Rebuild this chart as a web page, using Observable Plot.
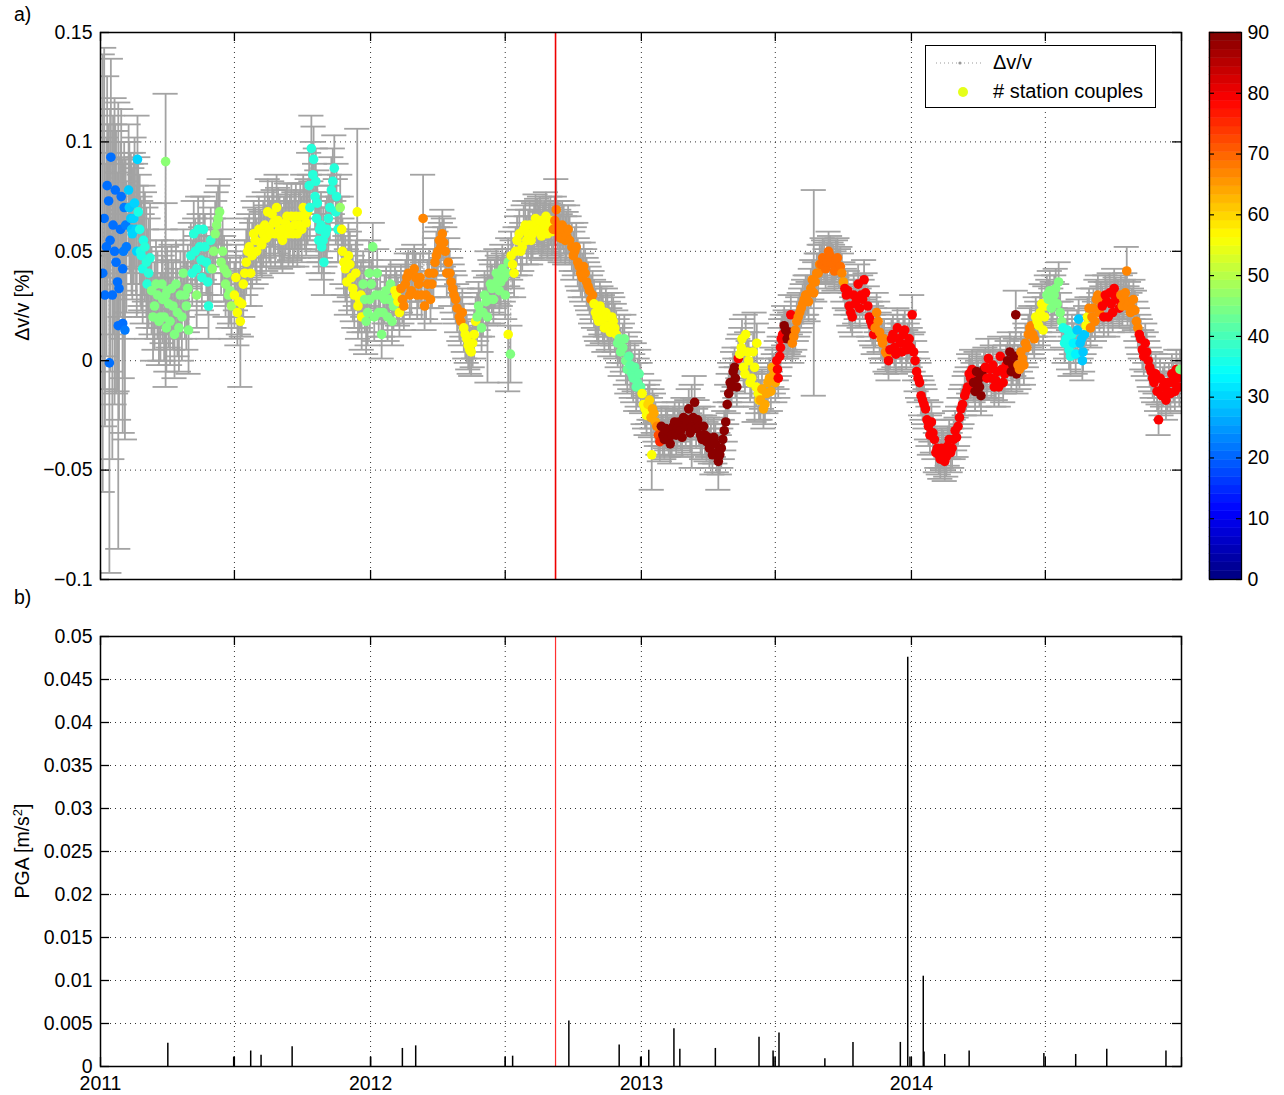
<!DOCTYPE html>
<html><head><meta charset="utf-8">
<script src="https://cdn.jsdelivr.net/npm/d3@7"></script>
<script src="https://cdn.jsdelivr.net/npm/@observablehq/plot@0.6"></script>
<style>
body{margin:0;background:#fff;font-family:"Liberation Sans",Arial,Helvetica,sans-serif;}
#fig{position:relative;width:1284px;height:1095px;overflow:hidden;background:#fff;}
#fig > *{position:absolute;}
.lbl{font-size:19.5px;color:#000;white-space:nowrap;}
.ytitle{font-size:19.5px;white-space:nowrap;transform:translate(-50%,-50%) rotate(-90deg);}
</style></head><body><div id="fig"></div>
<script>
// ---------------- data ----------------
// rows: [days since 2011-01-01, dv/v (%), # station couples, optional error half-width]
const obs2011 = [
[3,0.040,21,0.100],[5,0.065,21,0.078],[8,0.052,21,0.050],[11,0.073,21,0.035],[12,-0.001,21,0.096],
[14,0.093,21,0.045],[16,0.030,21,0.075],[19,0.050,21,0.070],[20,0.078,21,0.030],[23,0.036,21,0.050],
[24,0.016,21,0.102],[27,0.060,21,0.040],[30,0.042,21,0.050],[32,0.070,22,0.030],[35,0.052,22,0.030],
[38,0.078,29,0.030],[41,0.065,29,0.030],[43,0.058,30,0.030],[46,0.072,30,0.030],[49,0.050,30,0.030],
[50,0.092,30,0.020],[53,0.060,36,0.025],[55,0.048,36,0.025],[58,0.055,36,0.025],[62,0.045,37,0.025],
[65,0.040,37,0.025],[69,0.032,45,0.020],[73,0.025,45,0.020],[77,0.030,45,0.020],[81,0.020,45,0.020],
[84,0.028,45,0.020],[88,0.091,46,0.031],[88,0.030,45,0.042],[89,0.015,45,0.020],[92,0.026,45,0.020],
[96,0.033,45,0.020],[100,0.012,45,0.020],[104,0.022,45,0.020],[108,0.030,45,0.020],[112,0.040,45,0.020],
[116,0.025,45,0.020],[119,0.014,45,0.020],[122,0.048,37],[126,0.058,37],[130,0.042,37],[130,0.030,46],
[134,0.052,37],[137,0.038,37],[139,0.060,37],[143,0.045,37],[146,0.025,37],[149,0.055,38],
[151,0.042,46],[155,0.058,46],[157,0.062,46],[161,0.068,46],[163,0.045,46],[165,0.050,46],[169,0.035,46],
[173,0.030,46],[177,0.025,48],[181,0.030,56],[185,0.022,56],[189,0.018,56,0.030],[193,0.035,56],
[197,0.045,56],[201,0.052,56],[205,0.048,56],[209,0.055,56],[214,0.060,56],[218,0.053,56],
[222,0.062,56],[226,0.068,56],[230,0.058,56],[234,0.063,56],[238,0.070,56],[242,0.060,56],
[246,0.055,56],[250,0.063,56],[254,0.058,56],[258,0.066,56],[262,0.062,56],[266,0.058,56],
[270,0.066,56],[274,0.070,56],[278,0.063,56],[282,0.080,37],[285,0.097,37],[288,0.092,37],
[291,0.082,37],[293,0.072,37],[296,0.060,37],[299,0.052,37],[302,0.045,37],[304,0.058,37],
[308,0.065,37],[312,0.078,37],[316,0.088,37],[319,0.075,37],[324,0.070,47],[327,0.050,56],
[331,0.042,56],[335,0.048,56],[339,0.038,56],[343,0.030,56],[347,0.068,56,0.038],[348,0.025,56],
[353,0.020,56],[355,0.035,45],[359,0.018,45],[364,0.028,45]
];
const obs2011b = [
[6,0.030,21,0.060],[9,0.080,21,0.050],[13,0.055,21,0.060],[17,0.062,21,0.050],[21,0.045,21,0.060],
[25,0.033,21,0.060],[28,0.075,21,0.040],[30,0.017,21,0.050],[31,0.050,22,0.040],[33,0.014,22,0.050],
[34,0.062,22,0.030],[39,0.070,29,0.030],[42,0.060,29,0.030],[45,0.065,30,0.030],[48,0.060,30,0.030],
[51,0.068,36,0.025],[54,0.050,36,0.025],[57,0.042,36,0.025],[60,0.052,37,0.025],[63,0.035,37,0.025],
[67,0.047,37,0.025],[71,0.020,45,0.020],[75,0.035,45,0.020],[79,0.018,45,0.020],[83,0.035,45,0.020],
[86,0.020,45,0.020],[90,0.032,45,0.020],[94,0.018,45,0.020],[98,0.025,45,0.020],[102,0.035,45,0.020],
[106,0.015,45,0.020],[110,0.020,45,0.020],[114,0.030,45,0.020],[118,0.033,45,0.020],
[124,0.040,37],[128,0.050,37],[132,0.060,37],[136,0.046,37],[141,0.052,37],[145,0.036,37],[148,0.042,37],
[153,0.050,46],[159,0.065,46],[167,0.042,46],[171,0.040,46],[175,0.032,46],
[183,0.038,56],[187,0.027,56],[191,0.026,56],[195,0.040,56],[199,0.050,56],[203,0.040,56],[207,0.058,56],
[211,0.050,56],[216,0.054,56],[220,0.058,56],[224,0.056,56],[228,0.060,56],[232,0.067,56],[236,0.058,56],
[240,0.064,56],[244,0.057,56],[248,0.060,56],[252,0.066,56],[256,0.061,56],[260,0.058,56],[264,0.066,56],
[268,0.062,56],[272,0.060,56],[276,0.066,56],[280,0.068,56],
[283,0.070,37],[287,0.085,37],[290,0.075,37],[292,0.065,37],[295,0.055,37],[298,0.062,37],[301,0.055,37],
[306,0.060,37],[310,0.070,37],[314,0.082,37],[318,0.068,37],[321,0.060,37],
[326,0.060,56],[329,0.045,56],[333,0.036,56],[337,0.044,56],[341,0.033,56],[345,0.040,56],[350,0.028,56],
[352,0.030,56],[357,0.028,45],[361,0.022,45],[363,0.040,45]
];
const obs2012 = [
[368,0.052,45],[372,0.030,45],[376,0.022,45],[380,0.012,45],[384,0.028,45],[388,0.020,45],
[392,0.035,45],[396,0.025,45],[400,0.030,56],[404,0.022,56],[408,0.028,67],[412,0.035,67],
[416,0.040,67],[420,0.032,67],[424,0.042,67],[428,0.030,67],[432,0.038,67],[436,0.065,67,0.020],
[438,0.025,67],[442,0.035,67],[446,0.028,67],[450,0.040,67],[454,0.048,67],[458,0.055,67],
[462,0.058,67],[466,0.050,67],[470,0.045,67],[474,0.036,67],[478,0.030,67],[482,0.024,67],
[487,0.018,67],[491,0.015,56],[495,0.010,56],[499,0.005,56],[503,0.008,56],[507,0.018,56],
[511,0.025,45],[515,0.015,45],[519,0.030,45],[523,0.020,45,0.030],[527,0.035,45],[531,0.028,45],
[535,0.040,45],[539,0.032,45],[543,0.042,45],[547,0.030,45],[551,0.045,45],[551,0.012,56,0.026],
[554,0.003,45,0.013],[555,0.048,56],[559,0.040,56],[563,0.055,56],[568,0.050,56],[572,0.060,56],
[576,0.055,56],[580,0.062,56],[584,0.058,56],[588,0.065,56],[592,0.060,56],[596,0.057,56],
[600,0.062,56],[604,0.058,56],[608,0.064,56],[612,0.060,67],[616,0.069,67,0.014],[620,0.058,67],
[624,0.062,67],[628,0.055,67],[632,0.060,67],[637,0.052,67],[641,0.050,67],[645,0.045,67],
[649,0.040,67],[653,0.043,67],[657,0.036,67],[661,0.032,67],[665,0.030,67],[669,0.022,56],
[673,0.018,56],[677,0.023,56],[681,0.015,56],[685,0.020,56],[689,0.013,56],[693,0.018,56],
[697,0.012,56],[701,0.010,44],[706,0.006,44],[710,0.000,44],[714,0.002,42],[718,-0.006,42],
[722,-0.003,42],[726,-0.010,42],[730,-0.012,42]
];
const obs2012b = [
[366,0.035,45],[370,0.020,45],[374,0.040,45],[378,0.030,45],[382,0.022,45],[386,0.032,45],[390,0.028,45],
[394,0.018,45],[398,0.032,56],[402,0.027,56],[406,0.033,67],[410,0.025,67],[414,0.038,67],[418,0.030,67],
[422,0.040,67],[426,0.038,67],[430,0.035,67],[434,0.030,67],[440,0.030,67],[444,0.040,67],[448,0.035,67],
[452,0.045,67],[456,0.050,67],[460,0.052,67],[464,0.054,67],[468,0.040,67],[472,0.040,67],[476,0.033,67],
[480,0.028,67],[485,0.020,67],[489,0.022,67],[493,0.012,56],[497,0.007,56],[501,0.004,56],[505,0.012,56],
[509,0.020,45],[513,0.022,45],[517,0.022,45],[521,0.027,45],[525,0.028,45],[529,0.033,45],[533,0.035,45],
[537,0.037,45],[541,0.036,45],[545,0.038,45],[549,0.040,45],[557,0.044,56],[561,0.050,56],[566,0.058,56],
[570,0.052,56],[574,0.062,56],[578,0.058,56],[582,0.055,56],[586,0.061,56],[590,0.063,56],[594,0.064,56],
[598,0.060,56],[602,0.066,56],[606,0.061,56],[610,0.059,56],[614,0.064,67],[618,0.062,67],[622,0.056,67],
[626,0.060,67],[630,0.057,67],[634,0.055,67],[639,0.048,67],[643,0.052,67],[647,0.043,67],[651,0.038,67],
[655,0.040,67],[659,0.034,67],[663,0.028,67],[667,0.026,56],[671,0.020,56],[675,0.025,56],[679,0.019,56],
[683,0.022,56],[687,0.016,56],[691,0.020,56],[695,0.015,56],[699,0.008,44],[703,0.004,44],[708,0.010,44],
[712,-0.004,43],[716,-0.002,42],[720,-0.008,42],[724,-0.012,42],[728,-0.006,42]
];
const obs2013 = [
[734,-0.020,56],[738,-0.025,56],[742,-0.018,60],[745,-0.043,56,0.016],[746,-0.022,64],[750,-0.028,64],
[754,-0.034,72],[758,-0.030,89],[762,-0.036,89],[766,-0.032,89],[770,-0.038,89],[774,-0.030,89],
[778,-0.034,89],[782,-0.028,89],[786,-0.035,89],[791,-0.030,89],[795,-0.022,89],[799,-0.030,89,0.019],
[803,-0.019,89,0.012],[807,-0.027,89],[811,-0.034,89],[815,-0.030,89],[819,-0.037,89],[823,-0.040,89],
[827,-0.043,89],[831,-0.038,89],[835,-0.046,89,0.013],[839,-0.040,89],[843,-0.032,89],[847,-0.020,89],
[851,-0.010,89],[855,-0.005,89],[858,-0.008,89],[862,0.001,79],[866,0.006,56],[869,-0.003,56],
[872,0.012,56],[876,0.000,56],[880,-0.008,56],[884,-0.003,56,0.025],[887,0.008,56],[889,-0.015,56],
[892,-0.018,64],[896,-0.022,64],[900,-0.015,64],[904,-0.008,64],[908,-0.003,64],[912,-0.010,64],
[914,0.000,79],[916,-0.008,79],[919,0.006,79],[922,0.012,79],[926,0.014,89],[930,0.012,89],
[933,0.021,79],[935,0.008,67],[939,0.014,67],[943,0.020,67],[947,0.024,67],[951,0.028,67],
[955,0.030,67],[960,0.033,67],[964,0.031,67,0.047],[968,0.040,67],[972,0.044,67],[976,0.047,69],
[980,0.042,69],[984,0.050,69],[988,0.045,69],[992,0.041,69],[996,0.047,69],[1000,0.043,69],
[1004,0.036,65],[1008,0.030,79],[1012,0.025,79],[1016,0.020,79],[1020,0.026,79],[1024,0.035,79],
[1028,0.030,79],[1032,0.037,79],[1037,0.025,79],[1041,0.018,79],[1045,0.012,79],[1049,0.022,67],
[1053,0.013,67],[1057,0.008,67],[1061,0.004,67],[1065,0.000,79],[1069,0.010,79],[1073,0.006,79],
[1077,0.015,79],[1081,0.008,79],[1085,0.012,79],[1089,0.005,79],[1093,0.010,79]
];
const obs2013b = [
[732,-0.015,56],[736,-0.022,56],[740,-0.020,60],[744,-0.026,64],[748,-0.024,64],[752,-0.030,67],
[756,-0.037,75],[760,-0.034,89],[764,-0.031,89],[768,-0.035,89],[772,-0.034,89],[776,-0.028,89],
[780,-0.031,89],[784,-0.032,89],[788,-0.026,89],[793,-0.027,89],[797,-0.033,89],[801,-0.026,89],
[805,-0.031,89],[809,-0.030,89],[813,-0.036,89],[817,-0.034,89],[821,-0.035,89],[825,-0.038,89],
[829,-0.035,89],[833,-0.042,89],[837,-0.043,89],[841,-0.036,89],[845,-0.028,89],[849,-0.015,89],
[853,-0.012,89],[857,-0.003,89],[860,-0.012,89],[864,0.003,56],[867,0.010,56],[871,-0.006,56],
[874,0.004,56],[878,-0.010,56],[882,0.004,56],[886,-0.012,56],[890,-0.018,60],[894,-0.013,64],
[898,-0.020,64],[902,-0.010,64],[906,-0.014,64],[910,-0.006,64],[915,-0.004,79],[918,0.002,79],
[920,0.010,79],[924,0.016,89],[928,0.010,89],[932,0.013,89],[937,0.011,67],[941,0.018,67],[945,0.022,67],
[949,0.026,67],[953,0.030,67],[957,0.027,67],[962,0.037,67],[966,0.036,67],[970,0.040,67],[974,0.044,69],
[978,0.046,69],[982,0.045,69],[986,0.048,69],[990,0.044,69],[994,0.046,69],[998,0.042,69],[1002,0.040,67],
[1006,0.033,79],[1010,0.032,79],[1014,0.022,79],[1018,0.030,79],[1022,0.028,79],[1026,0.024,79],
[1030,0.028,79],[1034,0.031,79],[1039,0.020,79],[1043,0.016,79],[1047,0.015,67],[1051,0.018,67],
[1055,0.010,67],[1059,0.010,67],[1063,0.003,67],[1067,0.005,79],[1071,0.012,79],[1075,0.003,79],
[1079,0.010,79],[1083,0.004,79],[1087,0.014,79],[1091,0.008,79],[1095,0.006,79]
];
const obs2014 = [
[1097,0.021,79],[1099,0.004,79],[1103,-0.005,79],[1107,-0.010,79],[1111,-0.018,79],[1115,-0.022,79],
[1119,-0.030,79],[1123,-0.028,79],[1127,-0.036,79],[1131,-0.040,79],[1135,-0.045,79],[1139,-0.041,79],
[1143,-0.044,79],[1147,-0.036,79],[1151,-0.040,79],[1155,-0.032,79],[1159,-0.030,79],[1163,-0.022,79],
[1168,-0.016,79],[1172,-0.012,79],[1176,-0.008,79],[1180,-0.010,89],[1184,-0.005,89],[1188,-0.012,89],
[1192,-0.007,89],[1196,-0.003,79],[1200,0.001,79],[1204,-0.008,79],[1208,-0.012,79],[1212,-0.005,79],
[1216,0.002,79],[1220,-0.010,79],[1224,-0.002,79],[1229,0.004,89],[1233,-0.002,89],[1237,0.021,89,0.011],
[1238,-0.006,89],[1242,-0.004,67],[1246,0.001,67],[1250,0.008,67],[1254,0.012,67],[1258,0.016,67],
[1262,0.010,67],[1266,0.018,56],[1270,0.022,56],[1274,0.014,56],[1277,0.025,56],[1281,0.028,45],
[1285,0.024,45],[1289,0.030,45],[1293,0.026,45],[1295,0.036,45,0.009],[1297,0.022,45],[1301,0.015,36],
[1305,0.010,36],[1309,0.005,36],[1313,0.012,36],[1318,0.003,33],[1322,0.019,29],[1324,0.008,29],
[1327,0.000,29],[1330,0.012,29],[1334,0.020,56],[1338,0.015,67],[1342,0.024,67],[1346,0.028,67],
[1350,0.022,67],[1354,0.025,79],[1358,0.030,79],[1362,0.020,79],[1366,0.026,79],[1370,0.033,79],
[1375,0.028,79],[1379,0.030,67],[1383,0.028,67],[1387,0.041,67,0.011],[1388,0.025,67],[1392,0.022,67],
[1396,0.028,67],[1400,0.018,67],[1404,0.012,79],[1408,0.005,79],[1412,0.008,79],[1416,0.000,79],
[1420,-0.005,79],[1424,-0.010,79],[1428,-0.014,79],[1430,-0.027,79,0.007],[1432,-0.008,79],
[1436,-0.012,79],[1440,-0.018,79],[1444,-0.010,79],[1448,-0.006,79],[1452,-0.014,79],[1456,-0.008,79],
[1459,-0.004,45]
];
const obs2014b = [
[1101,0.000,79],[1105,-0.008,79],[1109,-0.016,79],[1113,-0.020,79],[1117,-0.027,79],[1121,-0.034,79],
[1125,-0.033,79],[1129,-0.042,79],[1133,-0.043,79],[1137,-0.040,79],[1141,-0.046,79],[1145,-0.039,79],
[1149,-0.042,79],[1153,-0.036,79],[1157,-0.035,79],[1161,-0.026,79],[1165,-0.020,79],[1170,-0.014,79],
[1174,-0.006,79],[1178,-0.004,79],[1182,-0.014,89],[1186,-0.009,89],[1190,-0.016,89],[1194,-0.004,89],
[1198,-0.008,79],[1202,-0.004,79],[1206,-0.002,79],[1210,-0.009,79],[1214,-0.012,79],[1218,-0.004,79],
[1222,-0.006,79],[1226,0.000,89],[1231,-0.005,89],[1235,0.002,89],[1240,-0.002,67],[1244,0.004,67],
[1248,-0.002,67],[1252,0.006,67],[1256,0.015,67],[1260,0.012,67],[1264,0.020,56],[1268,0.016,56],
[1272,0.026,56],[1276,0.020,56],[1279,0.030,45],[1283,0.032,45],[1287,0.027,45],[1291,0.033,45],
[1299,0.018,45],[1303,0.008,36],[1307,0.014,36],[1311,0.002,36],[1315,0.008,33],[1320,0.014,29],
[1326,0.010,29],[1328,0.004,29],[1332,0.016,56],[1336,0.024,67],[1340,0.020,67],[1344,0.018,67],
[1348,0.030,67],[1352,0.027,67],[1356,0.020,79],[1360,0.027,79],[1364,0.031,79],[1368,0.022,79],
[1372,0.029,79],[1377,0.024,79],[1381,0.025,67],[1385,0.031,67],[1390,0.027,67],[1394,0.024,67],
[1398,0.023,67],[1402,0.015,67],[1406,0.010,79],[1410,0.002,79],[1414,0.004,79],[1418,-0.003,79],
[1422,-0.008,79],[1426,-0.006,79],[1434,-0.016,79],[1438,-0.010,79],[1442,-0.014,79],[1446,-0.015,79],
[1450,-0.010,79],[1454,-0.004,79],[1458,-0.012,79]
];
// typical error half-width per year (read from the grey band)
const typicalErr = {2011: 0.015, 2012: 0.011, 2013: 0.009, 2014: 0.009};

// PGA events
const pgaDates = ["2011-04-02","2011-06-30","2011-07-23","2011-08-06","2011-09-17","2012-01-01","2012-02-13","2012-03-02",
"2012-07-01","2012-07-11","2012-09-25","2012-12-02","2012-12-31","2013-01-11","2013-02-14","2013-02-22","2013-04-11",
"2013-06-09","2013-06-28","2013-06-29","2013-07-06","2013-09-06","2013-10-14","2013-12-17","2013-12-27","2013-12-30",
"2014-01-17","2014-01-18","2014-02-15","2014-03-20","2014-06-29","2014-08-11","2014-09-22","2014-12-11"];
const pgaValues = [0.0027,0.0011,0.0018,0.0013,0.0023,0.0011,0.0021,0.0024,
0.0011,0.0012,0.0053,0.0025,0.0011,0.0019,0.0044,0.0020,0.0021,
0.0034,0.0018,0.0011,0.0039,0.0009,0.0028,0.0028,0.0476,0.0011,
0.0105,0.0017,0.0014,0.0018,0.0015,0.0014,0.0020,0.0018];

const markerDate = "2012-09-07";
const topYTicks = [-0.1, -0.05, 0, 0.05, 0.1, 0.15];
const botYTicks = [0,0.005,0.01,0.015,0.02,0.025,0.03,0.035,0.04,0.045,0.05];
const cbTicks = [0,10,20,30,40,50,60,70,80,90];
const xLabelYears = [2011, 2012, 2013, 2014];
const legendLabels = ["Δv/v", "# station couples"];

(function(){
// ---------------- build ----------------
const t0 = new Date(Date.UTC(2011,0,1)), t1 = new Date(Date.UTC(2015,0,1));
const groups = [[obs2011,2011],[obs2011b,2011],[obs2012,2012],[obs2012b,2012],[obs2013,2013],[obs2013b,2013],[obs2014,2014],[obs2014b,2014]];
const obs = groups.flatMap(([rows,yr]) =>
  rows.map(([day,v,n,e]) => ({date: d3.utcDay.offset(t0, day), dvv: v, n, err: e ?? typicalErr[yr]})))
  .sort((a,b) => a.date - b.date);
const pga = pgaDates.map((d,i) => ({date: new Date(d + "T00:00Z"), v: pgaValues[i]}));
const mDate = new Date(markerDate + "T00:00Z");
const halfYears = d3.utcMonth.every(6).range(t0, d3.utcDay.offset(t1, 1));
const yearTicks = xLabelYears.map(y => new Date(Date.UTC(y,0,1)));

function jet(t){
  const c = v => Math.max(0, Math.min(1, v));
  const r = c(1.5 - Math.abs(4*t - 3)), g = c(1.5 - Math.abs(4*t - 2)), b = c(1.5 - Math.abs(4*t - 1));
  return `rgb(${Math.round(r*255)},${Math.round(g*255)},${Math.round(b*255)})`;
}
const colorScale = {type: "linear", domain: [0, 90], interpolate: jet};
const FONT = '"Liberation Sans", Arial, Helvetica, sans-serif';
const FS = 19.5;
const fmtNum = v => v === 0 ? "0" : String(+v.toFixed(3)).replace("-", "\u2212");
const capDays = 17;
const GREY = "#a3a3a3";

// inward tick marks on all four sides of a frame of size w x h
function frameTicks(xt, yt, size, w, h, sw = 1.3){
  const marks = [];
  if (xt) marks.push(
    Plot.ruleX(xt, {insetTop: h - size, stroke: "#000", strokeWidth: sw}),
    Plot.ruleX(xt, {insetBottom: h - size, stroke: "#000", strokeWidth: sw}));
  marks.push(
    Plot.ruleY(yt, {insetRight: w - size, stroke: "#000", strokeWidth: sw}),
    Plot.ruleY(yt, {insetLeft: w - size, stroke: "#000", strokeWidth: sw}));
  return marks;
}
const gridStyle = {stroke: "#000", strokeOpacity: 0.8, strokeDasharray: "1,4", strokeWidth: 1};

const fig = document.getElementById("fig");
const W = 1081;

// ---- panel a ----
const HA = 547;
const chartA = Plot.plot({
  width: 1284, height: 600,
  marginLeft: 100, marginRight: 103, marginTop: 32, marginBottom: 21,
  style: {fontFamily: FONT, fontSize: FS + "px", background: "transparent", color: "#000"},
  x: {type: "utc", domain: [t0, t1], axis: null},
  y: {domain: [-0.1, 0.15]},
  color: colorScale,
  marks: [
    Plot.gridX(halfYears.slice(1, -1), gridStyle),
    Plot.gridY(topYTicks.slice(1, -1), gridStyle),
    Plot.line(obs, {x: "date", y: "dvv", stroke: "#999", strokeWidth: 1, strokeDasharray: "1,3", clip: true}),
    Plot.ruleX(obs, {x: "date", y1: d => d.dvv - d.err, y2: d => d.dvv + d.err, stroke: GREY, strokeWidth: 1.8, clip: true}),
    Plot.ruleY(obs, {y: d => d.dvv + d.err, x1: d => d3.utcDay.offset(d.date, -capDays), x2: d => d3.utcDay.offset(d.date, capDays), stroke: GREY, strokeWidth: 1.8, clip: true}),
    Plot.ruleY(obs, {y: d => d.dvv - d.err, x1: d => d3.utcDay.offset(d.date, -capDays), x2: d => d3.utcDay.offset(d.date, capDays), stroke: GREY, strokeWidth: 1.8, clip: true}),
    Plot.dot(obs, {x: "date", y: "dvv", r: 4.8, fill: "n", stroke: null, clip: true}),
    Plot.ruleX([mDate], {stroke: "#ee0000", strokeWidth: 1.6}),
    Plot.frame({stroke: "#000", strokeWidth: 1.5}),
    ...frameTicks(halfYears, topYTicks, 9, W, HA),
    Plot.axisY(topYTicks, {anchor: "left", tickSize: 0, tickPadding: 8, tickFormat: fmtNum, label: null, fontSize: FS})
  ]
});
chartA.style.left = "0px"; chartA.style.top = "0px";
fig.appendChild(chartA);

// ---- colorbar ----
const levels = d3.range(64).map(i => ({lo: i * 90 / 64, hi: (i + 1) * 90 / 64, mid: (i + 0.5) * 90 / 64}));
const chartCb = Plot.plot({
  width: 104, height: 600,
  marginLeft: 29, marginRight: 43, marginTop: 32, marginBottom: 21,
  style: {fontFamily: FONT, fontSize: FS + "px", background: "transparent", color: "#000"},
  x: {domain: [0, 1], axis: null},
  y: {domain: [0, 90]},
  color: colorScale,
  marks: [
    Plot.rect(levels, {x1: 0, x2: 1, y1: "lo", y2: "hi", fill: "mid", stroke: "mid", strokeWidth: 0.5}),
    Plot.frame({stroke: "#000", strokeWidth: 1.3}),
    ...frameTicks(null, cbTicks, 5, 32, HA, 1.2),
    Plot.axisY(cbTicks, {anchor: "right", tickSize: 0, tickPadding: 6, label: null, fontSize: FS})
  ]
});
chartCb.style.left = "1180px"; chartCb.style.top = "0px";
fig.appendChild(chartCb);

// ---- panel b ----
const HB = 430;
const chartB = Plot.plot({
  width: 1284, height: 495,
  marginLeft: 100, marginRight: 103, marginTop: 36, marginBottom: 29,
  style: {fontFamily: FONT, fontSize: FS + "px", background: "transparent", color: "#000"},
  x: {type: "utc", domain: [t0, t1]},
  y: {domain: [0, 0.05]},
  marks: [
    Plot.gridX(halfYears.slice(1, -1), gridStyle),
    Plot.gridY(botYTicks.slice(1, -1), gridStyle),
    Plot.ruleX([mDate], {stroke: "#ff3030", strokeWidth: 1.2}),
    Plot.ruleX(pga, {x: "date", y1: 0, y2: "v", stroke: "#000", strokeWidth: 1.5}),
    Plot.frame({stroke: "#000", strokeWidth: 1.5}),
    ...frameTicks(halfYears, botYTicks, 9, W, HB),
    Plot.axisY(botYTicks, {anchor: "left", tickSize: 0, tickPadding: 8, tickFormat: fmtNum, label: null, fontSize: FS}),
    Plot.axisX(yearTicks, {anchor: "bottom", tickSize: 0, tickPadding: 10, tickFormat: d3.utcFormat("%Y"), label: null, fontSize: FS})
  ]
});
chartB.style.left = "0px"; chartB.style.top = "600px";
fig.appendChild(chartB);

// ---- texts and legend ----
function addDiv(html, cls, css){
  const d = document.createElement("div");
  d.className = cls; d.innerHTML = html;
  Object.assign(d.style, css);
  fig.appendChild(d);
  return d;
}
addDiv("a)", "lbl", {left: "14px", top: "3px"});
addDiv("b)", "lbl", {left: "14px", top: "586px"});
addDiv("Δv/v [%]", "ytitle", {left: "22px", top: "305px"});
addDiv("PGA [m/s<sup style='font-size:13px'>2</sup>]", "ytitle", {left: "22px", top: "851px"});

const leg = addDiv("", "", {left: "925px", top: "45px", width: "229px", height: "61px", border: "1px solid #000", background: "#fff"});
leg.innerHTML = `<svg width="64" height="61" style="position:absolute;left:0;top:0">
  <line x1="10" x2="57" y1="17" y2="17" stroke="#999" stroke-width="1" stroke-dasharray="1,3"></line>
  <circle cx="34" cy="17" r="1.6" fill="#999"></circle>
  <circle cx="37" cy="46" r="5" fill="${jet(0.6)}"></circle></svg>
  <span class="lbl" style="position:absolute;left:67px;top:5px;font-size:20px">${legendLabels[0]}</span>
  <span class="lbl" style="position:absolute;left:67px;top:34px;font-size:20px">${legendLabels[1]}</span>`;
})();
</script></body></html>
